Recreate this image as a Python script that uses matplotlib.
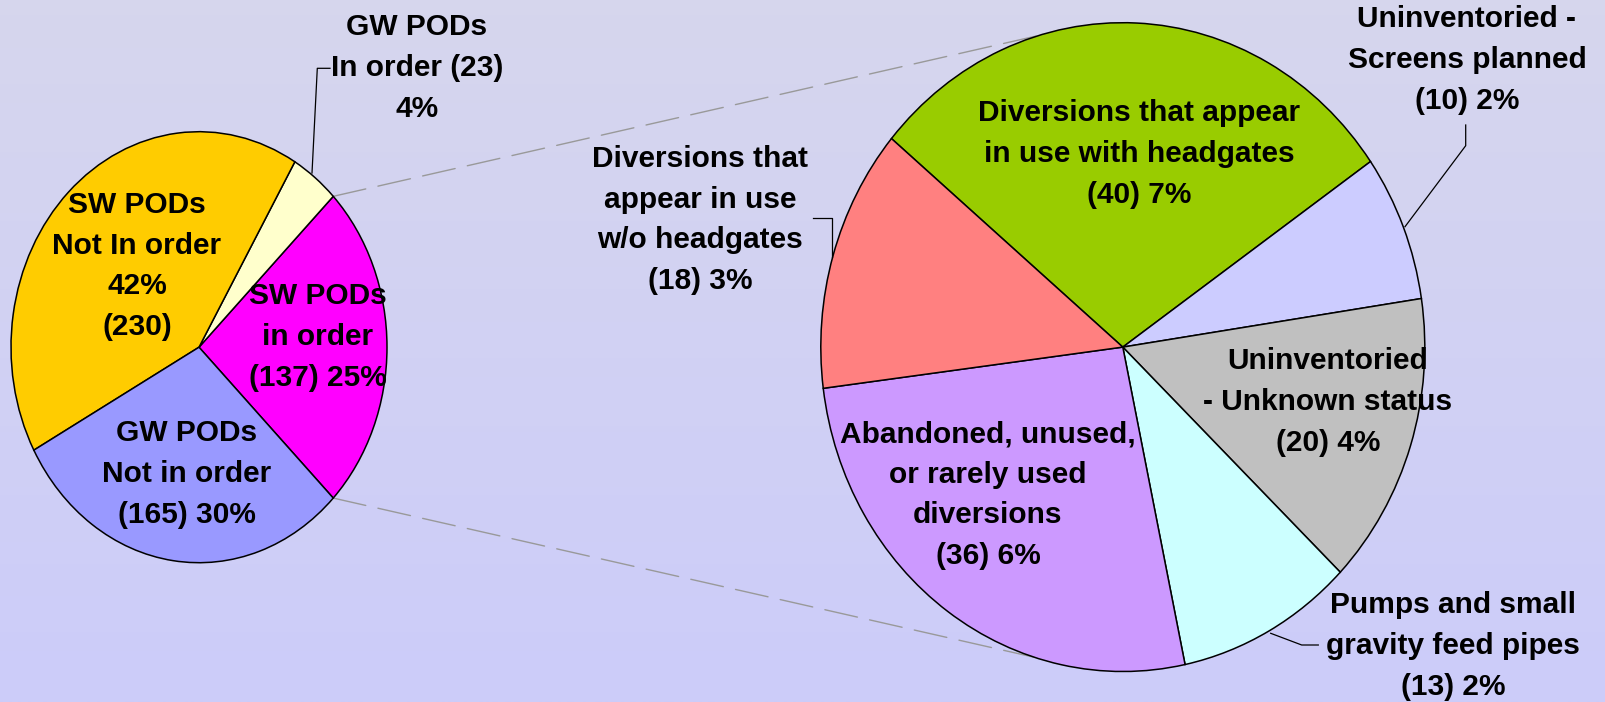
import numpy as np
import matplotlib
matplotlib.use("Agg")
import matplotlib.pyplot as plt
from matplotlib.patches import ConnectionPatch

plt.rcParams['font.family'] = ['Liberation Sans', 'DejaVu Sans']
plt.rcParams['font.weight'] = 'bold'

# main pie (points of diversion)
main_values = [137, 23, 230, 165]
main_colors = ['#FF00FF', '#FFFFCC', '#FFCC00', '#9999FF']
main_labels = ['SW PODs\nin order\n(137) 25%',
               'GW PODs\nIn order (23)\n4%',
               'SW PODs\nNot In order\n42%\n(230)',
               'GW PODs\nNot in order\n(165) 30%']

# breakdown of "SW PODs in order"
sub_values = [40, 10, 20, 13, 36, 18]
sub_colors = ['#99CC00', '#CCCCFF', '#C0C0C0', '#CCFFFF', '#CC99FF', '#FF8080']
sub_labels = ['Diversions that appear\nin use with headgates\n(40) 7%',
              'Uninventoried -\nScreens planned\n(10) 2%',
              'Uninventoried\n- Unknown status\n(20) 4%',
              'Pumps and small\ngravity feed pipes\n(13) 2%',
              'Abandoned, unused,\nor rarely used\ndiversions\n(36) 6%',
              'Diversions that\nappear in use\nw/o headgates\n(18) 3%']

W, H = 1606, 702
fig = plt.figure(figsize=(W / 100, H / 100), dpi=100)

# background gradient
bg = fig.add_axes([0, 0, 1, 1], zorder=0)
grad = np.linspace(0, 1, 256)[:, None]
top = np.array([0.84, 0.84, 0.93])
bot = np.array([0.80, 0.80, 0.98])
img = top[None, None, :] * (1 - grad[..., None]) + bot[None, None, :] * grad[..., None]
bg.imshow(np.repeat(img, 2, axis=1), aspect='auto', extent=[0, 1, 0, 1])
bg.axis('off')


def pie_axes(cx, cy, rx, ry):
    # axes box in pixels (y measured from top)
    return fig.add_axes([(cx - rx) / W, (H - cy - ry) / H, 2 * rx / W, 2 * ry / H], zorder=1)


ax1 = pie_axes(199, 347.2, 188, 215.5)
ax2 = pie_axes(1122.8, 347.1, 302, 324.4)

start1 = -0.5 * main_values[0] / sum(main_values) * 360
w1, _ = ax1.pie(main_values, colors=main_colors, startangle=start1, counterclock=True,
                wedgeprops=dict(edgecolor='black', linewidth=1.1))
w2, _ = ax2.pie(sub_values, colors=sub_colors, startangle=140, counterclock=False,
                wedgeprops=dict(edgecolor='black', linewidth=1.1))
for ax, ws in ((ax1, w1), (ax2, w2)):
    ax.set_xlim(-1, 1)
    ax.set_ylim(-1, 1)
    ax.set_aspect('auto')
    ax.axis('off')
    for w in ws:
        w.set_clip_on(False)

# dashed connector lines
a_top = np.deg2rad(-start1)
for a1, a2 in ((a_top, np.deg2rad(106)), (-a_top, np.deg2rad(-107))):
    con = ConnectionPatch(xyA=(np.cos(a1), np.sin(a1)), coordsA=ax1.transData,
                          xyB=(np.cos(a2), np.sin(a2)), coordsB=ax2.transData,
                          color='#999999', linewidth=1.0, linestyle=(0, (24, 9)), zorder=0.5)
    fig.add_artist(con)

# overlay in pixel coordinates for labels and leader lines
ov = fig.add_axes([0, 0, 1, 1], zorder=3)
ov.set_xlim(0, W)
ov.set_ylim(H, 0)
ov.axis('off')
ov.patch.set_alpha(0)

txt = dict(fontsize=21.5, fontweight='bold', ha='center', va='center',
           linespacing=1.57, color='black')

main_pos = [(318, 337), (417, 68), (137, 266), (187, 474)]
for lab, (x, y) in zip(main_labels, main_pos):
    ov.text(x, y, lab, **txt)

sub_pos = [(1139, 154), (1467, 60), (1328, 402), (1453, 646), (988, 495), (700, 220)]
for lab, (x, y) in zip(sub_labels, sub_pos):
    ov.text(x, y, lab, **txt)

# leader lines
lead = dict(color='black', linewidth=0.9)
ov.plot([312, 317.3, 330], [173, 68.3, 68.3], **lead)
ov.plot([1465.7, 1465.7, 1405], [125, 145.7, 226.7], **lead)
ov.plot([1270.7, 1301.7, 1318.3], [633.3, 645, 645], **lead)
ov.plot([813.3, 831.7, 831.7], [218.3, 218.3, 256.7], **lead)

fig.savefig('out.png', dpi=100)
